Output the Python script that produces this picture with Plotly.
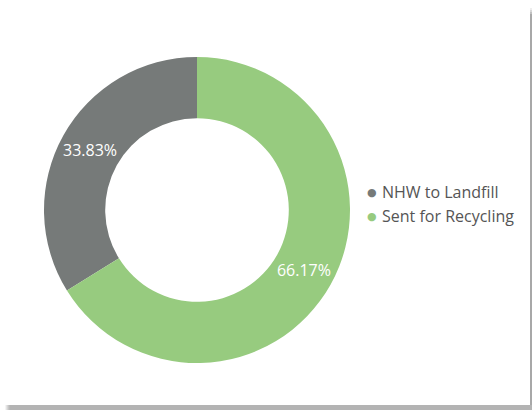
import plotly.graph_objects as go

# Waste stream split (percent of non-hazardous waste)
labels = ["NHW to Landfill", "Sent for Recycling"]
values = [33.83, 66.17]
colors = ["#767A79", "#97CB7F"]

W, H = 532, 410

# the landfill slice sits left of 12 o'clock, ending at the top
start_angle = -360.0 * values[0] / sum(values)

fig = go.Figure()

fig.add_trace(go.Pie(
    labels=labels,
    values=values,
    hole=0.6,
    sort=False,
    direction="clockwise",
    rotation=start_angle,
    marker=dict(colors=colors, line=dict(width=0)),
    texttemplate="%{value:.2f}%",
    textposition="inside",
    insidetextorientation="horizontal",
    textfont=dict(family="Open Sans", size=16, color="white"),
    domain=dict(x=[44 / W, 350 / W], y=[47 / H, 353 / H]),
    showlegend=False,
    hoverinfo="label+percent",
))

# Custom legend: coloured dot followed by the category name
legend_x = 380 / W
legend_y0 = 192
for i, (lab, col) in enumerate(zip(labels, colors)):
    y = 1 - (legend_y0 + i * 24) / H
    fig.add_annotation(x=372 / W, y=y, xref="paper", yref="paper",
                       text="●", showarrow=False, xanchor="center", yanchor="middle",
                       font=dict(family="DejaVu Sans", size=11, color=col))
    fig.add_annotation(x=legend_x, y=y, xref="paper", yref="paper",
                       text=lab, showarrow=False, xanchor="left", yanchor="middle",
                       font=dict(family="Open Sans", size=16, color="#555555"))

# Card frame: thin right edge and bottom shadow band
shapes = [
    dict(type="rect", xref="paper", yref="paper",
         x0=530 / W, x1=532 / W, y0=0, y1=1 - 14 / H,
         fillcolor="#A8A8A8", line=dict(width=0), layer="above"),
    dict(type="rect", xref="paper", yref="paper",
         x0=10 / W, x1=1, y0=0, y1=5 / H,
         fillcolor="#B3B3B3", line=dict(width=0), layer="above"),
]
# soft fade at the left end of the shadow band
for k, op in enumerate([0.15, 0.35, 0.55, 0.75, 0.9]):
    shapes.append(dict(type="rect", xref="paper", yref="paper",
                       x0=(5 + k) / W, x1=(6 + k) / W, y0=0, y1=5 / H,
                       fillcolor="#B3B3B3", opacity=op, line=dict(width=0), layer="above"))
# soft fade at the top of the right edge
for k, op in enumerate([0.2, 0.45, 0.7]):
    shapes.append(dict(type="rect", xref="paper", yref="paper",
                       x0=530 / W, x1=532 / W, y0=1 - (10 + k * 2) / H, y1=1 - (8 + k * 2) / H,
                       fillcolor="#A8A8A8", opacity=op, line=dict(width=0), layer="above"))

fig.update_layout(
    width=W, height=H,
    margin=dict(l=0, r=0, t=0, b=0),
    paper_bgcolor="white",
    plot_bgcolor="white",
    showlegend=False,
    shapes=shapes,
)

fig.write_html("out.html")
